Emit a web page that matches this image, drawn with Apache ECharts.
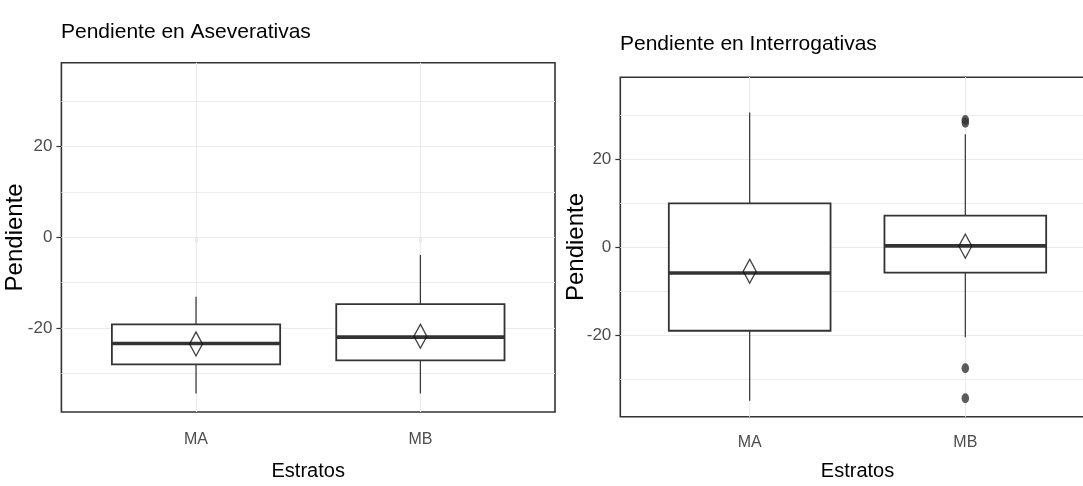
<!DOCTYPE html>
<html><head><meta charset="utf-8">
<script src="https://cdn.jsdelivr.net/npm/echarts@6/dist/echarts.min.js"></script>
<style>html,body{margin:0;padding:0;background:#fff}#c{width:1083px;height:486px}</style>
</head><body><div id="c"></div>
<script>
// ---------- data ----------
const categories = ['MA', 'MB'];
const yTicks = [-20, 0, 20];
const yMinorGrid = [-30, -10, 10, 30];
const titles = ['Pendiente en Aseverativas', 'Pendiente en Interrogativas'];
const xTitle = 'Estratos';
const yTitle = 'Pendiente';
// box stats per category: [lower whisker, Q1, median, Q3, upper whisker]
const asevBoxes = [[-34.4, -28.0, -23.4, -19.2, -13.1], [-34.4, -27.1, -22.0, -14.7, -3.9]];
const asevMeans = [-23.5, -21.8];
const asevOutliers = [];
const interBoxes = [[-34.9, -19.0, -5.9, 9.9, 30.5], [-20.5, -5.8, 0.25, 7.1, 25.6]];
const interMeans = [-5.5, 0.2];
const interOutliers = [['MB', 28.2], ['MB', 28.8], ['MB', -27.5], ['MB', -34.3]];
const yMin = -38.5, yMax = 38.5;

// ---------- chart ----------
const FONT = "'Liberation Sans', Arial, sans-serif";
const dark = '#333333';

function renderBox(params, api) {
  const x = api.value(0);
  const pLo = api.coord([x, api.value(1)]);
  const pQ1 = api.coord([x, api.value(2)]);
  const pMed = api.coord([x, api.value(3)]);
  const pQ3 = api.coord([x, api.value(4)]);
  const pHi = api.coord([x, api.value(5)]);
  const halfW = api.size([0.75, 0])[0] / 2;
  const cx = pLo[0];
  return {
    type: 'group',
    children: [
      { type: 'line', shape: { x1: cx, y1: pHi[1], x2: cx, y2: pQ3[1] }, style: { stroke: dark, lineWidth: 1.2 } },
      { type: 'line', shape: { x1: cx, y1: pQ1[1], x2: cx, y2: pLo[1] }, style: { stroke: dark, lineWidth: 1.2 } },
      { type: 'rect', shape: { x: cx - halfW, y: pQ3[1], width: 2 * halfW, height: pQ1[1] - pQ3[1] },
        style: { fill: '#ffffff', stroke: dark, lineWidth: 1.8 } },
      { type: 'line', shape: { x1: cx - halfW, y1: pMed[1], x2: cx + halfW, y2: pMed[1] },
        style: { stroke: dark, lineWidth: 3.6 } }
    ]
  };
}

function boxData(boxes) { return boxes.map((b, i) => [i + 1].concat(b)); }
function meanData(means) { return means.map((m, i) => [i + 1, m]); }
function outData(outs) { return outs.map(o => [categories.indexOf(o[0]) + 1, o[1]]); }

const gridLines = [].concat(
  yTicks.map(v => ({ yAxis: v })),
  yMinorGrid.map(v => ({ yAxis: v, lineStyle: { width: 0.9 } })),
  categories.map((c, i) => ({ xAxis: i + 1 }))
);

function panelSeries(idx, boxes, means, outs) {
  return [
    { type: 'scatter', xAxisIndex: idx, yAxisIndex: idx, data: [], silent: true, z: 1,
      markLine: { silent: true, symbol: 'none', z: 1, animation: false, label: { show: false },
        lineStyle: { color: '#ebebeb', width: 1.2, type: 'solid' }, data: gridLines } },
    { type: 'custom', xAxisIndex: idx, yAxisIndex: idx, renderItem: renderBox, z: 2,
      encode: { x: 0, y: [1, 2, 3, 4, 5] }, data: boxData(boxes), silent: true },
    { type: 'scatter', xAxisIndex: idx, yAxisIndex: idx, z: 3, symbol: 'circle', symbolSize: [7.5, 10],
      itemStyle: { color: dark }, data: outData(outs), silent: true },
    { type: 'scatter', xAxisIndex: idx, yAxisIndex: idx, z: 4, symbol: 'diamond', symbolSize: [13, 24],
      itemStyle: { color: 'rgba(0,0,0,0)', borderColor: '#111', borderWidth: 1.4 }, data: meanData(means), silent: true }
  ];
}

function xAxisCfg(idx, labelMargin, nameGap) {
  return {
    type: 'value', gridIndex: idx, min: 0.4, max: 2.6,
    axisLine: { show: false },
    splitLine: { show: false },
    axisTick: { show: true, length: 5, lineStyle: { color: dark, width: 1.2 }, customValues: categories.map((c, i) => i + 1) },
    axisLabel: { customValues: categories.map((c, i) => i + 1), formatter: v => categories[Math.round(v) - 1],
      fontFamily: FONT, fontSize: 16, color: '#4d4d4d', margin: labelMargin },
    name: xTitle, nameLocation: 'middle', nameGap: nameGap, nameMoveOverlap: false,
    nameTextStyle: { fontFamily: FONT, fontSize: 20, color: '#000' }
  };
}
function yAxisCfg(idx, nameGap) {
  return {
    type: 'value', gridIndex: idx, min: yMin, max: yMax,
    axisLine: { show: false },
    splitLine: { show: false },
    axisTick: { show: true, length: 5, lineStyle: { color: dark, width: 1.2 }, customValues: yTicks },
    axisLabel: { customValues: yTicks, fontFamily: FONT, fontSize: 17, color: '#4d4d4d', margin: 9 },
    name: yTitle, nameLocation: 'middle', nameGap: nameGap, nameRotate: 90, nameMoveOverlap: false,
    nameTextStyle: { fontFamily: FONT, fontSize: 24, color: '#000' }
  };
}

const chart = echarts.init(document.getElementById('c'), null, { renderer: 'canvas' });
chart.setOption({
  animation: false,
  backgroundColor: '#ffffff',
  title: [
    { text: titles[0], left: 61, top: 22, padding: 0,
      textStyle: { fontFamily: FONT, fontSize: 21, fontWeight: 'normal', color: '#000' } },
    { text: titles[1], left: 620, top: 34, padding: 0,
      textStyle: { fontFamily: FONT, fontSize: 21, fontWeight: 'normal', color: '#000' } }
  ],
  grid: [
    { left: 61.4, top: 62.7, width: 493.6, height: 349.3, show: true, borderColor: dark, borderWidth: 1.6,
      backgroundColor: '#fff', outerBoundsMode: 'none', containLabel: false },
    { left: 620.3, top: 77.3, width: 474.4, height: 339.4, show: true, borderColor: dark, borderWidth: 1.6,
      backgroundColor: '#fff', outerBoundsMode: 'none', containLabel: false }
  ],
  xAxis: [xAxisCfg(0, 20, 49), xAxisCfg(1, 18, 45)],
  yAxis: [yAxisCfg(0, 34), yAxisCfg(1, 32)],
  series: [].concat(
    panelSeries(0, asevBoxes, asevMeans, asevOutliers),
    panelSeries(1, interBoxes, interMeans, interOutliers)
  )
});
</script>
</body></html>
